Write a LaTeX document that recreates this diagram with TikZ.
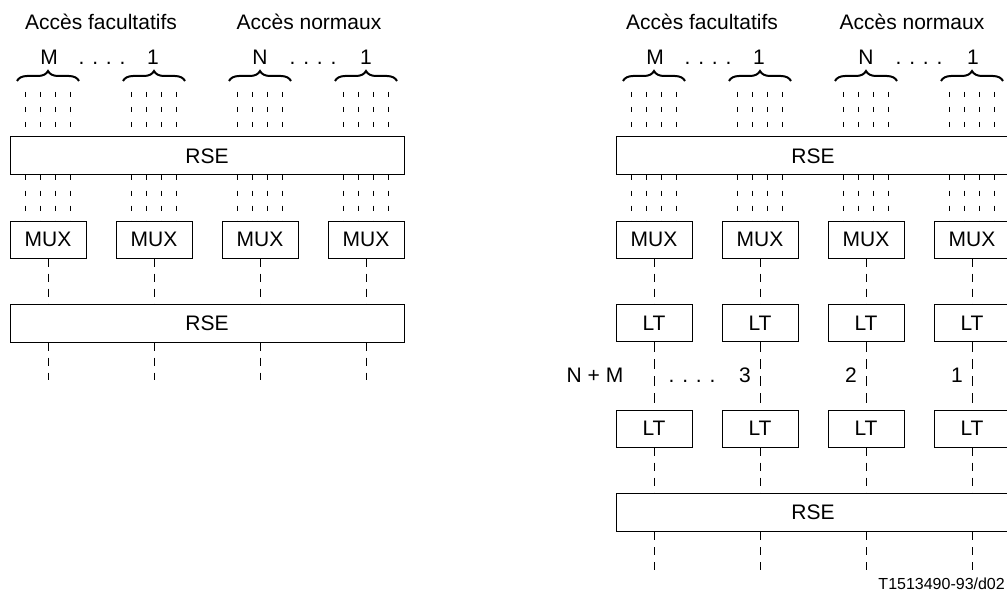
\documentclass[tikz,border=0pt]{standalone}
\usepackage{fontspec}
\setmainfont{Liberation Sans}
\usetikzlibrary{decorations.pathreplacing,calc}
\begin{document}
\begin{tikzpicture}[x=1pt,y=-1pt,
  lbl/.style={font=\fontsize{21}{25}\selectfont, inner sep=0pt, anchor=base},
  box/.style={draw, line width=1pt, minimum width=76pt, minimum height=37pt,
    inner sep=0pt, font=\fontsize{21}{25}\selectfont},
  wide/.style={box, minimum width=394pt, minimum height=38pt},
  strand/.style={line width=0.9pt, dash pattern=on 5pt off 10pt},
  link/.style={line width=0.9pt, dash pattern=on 8pt off 7pt},
  longlink/.style={line width=0.9pt, dash pattern=on 10pt off 7pt},
  grp/.style={line width=2pt, decorate, decoration={brace, amplitude=10pt}}]
\useasboundingbox (0,0) rectangle (1007,591);
\clip (0,0) rectangle (1007,591);

% ---------- left arrangement: RSE / MUX / RSE ----------
\node[wide] (ra) at (207,156) {RSE};
\node[wide] (rb) at (207,323) {RSE};
\foreach \k/\x in {1/48,2/154,3/260,4/366} {
  \node[box] (ma\k) at (\x,239.5) {MUX};
  \draw[grp] (\x-31,81) -- (\x+31,81);
  \foreach \j/\o in {1/-22.5,2/-7.5,3/7.5,4/22.5} {
    \coordinate (ta\k\j) at (\x+\o,92);
    \coordinate (ua\k\j) at ($(ma\k.north)+(\o,0)$);
    \draw[strand] (ta\k\j) -- (ta\k\j |- ra.north);
    \draw[strand] (ua\k\j |- ra.south) -- (ua\k\j);
  }
  \draw[link] (ma\k.south) -- (ma\k.south |- rb.north);
  \coordinate (ea\k) at (\x,380);
  \draw[link] (ea\k |- rb.south) -- (ea\k);
}
\node[lbl] (fa) at (101,30) {Accès facultatifs};
\node[lbl] (na) at (309,30) {Accès normaux};
\node[lbl] (m1) at (49,65) {M};
\node[lbl] (d1) at (102,65) {. . . .};
\node[lbl] (o1) at (153,65) {1};
\node[lbl] (n1) at (260,65) {N};
\node[lbl] (d2) at (313,65) {. . . .};
\node[lbl] (o2) at (366,65) {1};

% ---------- right arrangement: RSE / MUX / LT / LT / RSE ----------
\node[wide] (rc) at (813,156) {RSE};
\node[wide] (rd) at (813,512.5) {RSE};
\foreach \k/\x in {1/654,2/760,3/866,4/972} {
  \node[box] (mb\k) at (\x,239.5) {MUX};
  \node[box] (la\k) at (\x,323) {LT};
  \node[box] (lb\k) at (\x,428.5) {LT};
  \draw[grp] (\x-31,81) -- (\x+31,81);
  \foreach \j/\o in {1/-22.5,2/-7.5,3/7.5,4/22.5} {
    \coordinate (tb\k\j) at (\x+\o,92);
    \coordinate (ub\k\j) at ($(mb\k.north)+(\o,0)$);
    \draw[strand] (tb\k\j) -- (tb\k\j |- rc.north);
    \draw[strand] (ub\k\j |- rc.south) -- (ub\k\j);
  }
  \draw[link] (mb\k.south) -- (la\k.north);
  \draw[longlink] (la\k.south) -- (lb\k.north);
  \draw[link] (lb\k.south) -- (lb\k.south |- rd.north);
  \coordinate (eb\k) at (\x,570);
  \draw[link] (eb\k |- rd.south) -- (eb\k);
}
\node[lbl] (fb) at (702,30) {Accès facultatifs};
\node[lbl] (nb) at (912,30) {Accès normaux};
\node[lbl] (m2) at (655,65) {M};
\node[lbl] (d3) at (708,65) {. . . .};
\node[lbl] (o3) at (759,65) {1};
\node[lbl] (n2) at (866,65) {N};
\node[lbl] (d4) at (919,65) {. . . .};
\node[lbl] (o4) at (973,65) {1};

\node[lbl] (nm) at (595,382) {N + M};
\node[lbl] (d5) at (692,382) {. . . .};
\node[lbl] (c3) at (745,382) {3};
\node[lbl] (c2) at (851,382) {2};
\node[lbl] (c1) at (957,382) {1};

\node[inner sep=0pt, anchor=base east, font=\fontsize{16}{19}\selectfont] (ref) at (1005,589) {T1513490-93/d02};
\end{tikzpicture}
\end{document}
